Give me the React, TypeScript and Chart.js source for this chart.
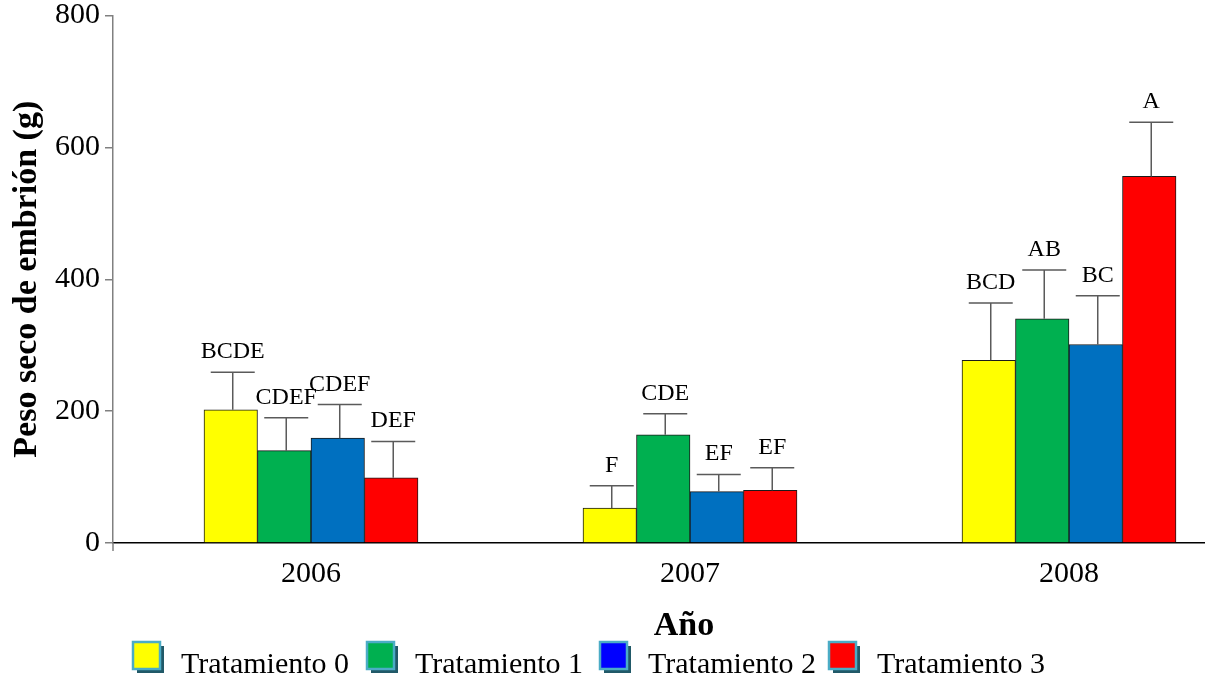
import React, { useEffect, useRef } from 'react';
import { Chart, registerables } from 'chart.js';

Chart.register(...registerables);

const FONT = '"Liberation Serif", "Times New Roman", serif';

const years = [2006, 2007, 2008];
const seriesNames = ['Tratamiento 0', 'Tratamiento 1', 'Tratamiento 2', 'Tratamiento 3'];
const t0 = [202, 53, 277];
const t1 = [140, 164, 340];
const t2 = [159, 78, 301];
const t3 = [99, 80, 556];
const err0 = [57, 34, 87];
const err1 = [50, 32, 74];
const err2 = [51, 26, 74];
const err3 = [55, 34, 82];
const let0 = ['BCDE', 'F', 'BCD'];
const let1 = ['CDEF', 'CDE', 'AB'];
const let2 = ['CDEF', 'EF', 'BC'];
const let3 = ['DEF', 'EF', 'A'];
const yTicks = [0, 200, 400, 600, 800];

const barColors = ['#ffff00', '#00b050', '#0070c0', '#ff0000'];
const legendColors = ['#ffff00', '#00b050', '#0000ff', '#ff0000'];
const legendBoxX = [133, 367, 600, 829];

const seriesValues = [t0, t1, t2, t3];
const seriesErrors = [err0, err1, err2, err3];
const seriesLetters = [let0, let1, let2, let3];

const extrasPlugin = {
  id: 'extras',
  afterDatasetsDraw(chart: any) {
    const ctx = chart.ctx;
    const y = chart.scales.y;
    ctx.save();
    chart.data.datasets.forEach((ds: any, di: number) => {
      const meta = chart.getDatasetMeta(di);
      meta.data.forEach((bar: any, i: number) => {
        const v = seriesValues[di][i];
        const e = seriesErrors[di][i];
        const cx = bar.x + 2;
        const yTop = y.getPixelForValue(v);
        const yErr = y.getPixelForValue(v + e);
        ctx.strokeStyle = '#5a5a5a';
        ctx.lineWidth = 1.5;
        ctx.beginPath();
        ctx.moveTo(cx, yTop);
        ctx.lineTo(cx, yErr);
        ctx.moveTo(cx - 22, yErr);
        ctx.lineTo(cx + 22, yErr);
        ctx.stroke();
        ctx.fillStyle = '#000';
        ctx.font = `24px ${FONT}`;
        ctx.textAlign = 'center';
        ctx.textBaseline = 'alphabetic';
        ctx.fillText(seriesLetters[di][i], cx, yErr - 14);
      });
    });
    ctx.restore();
  },
  afterDraw(chart: any) {
    const ctx = chart.ctx;
    const area = chart.chartArea;
    const xs = chart.scales.x;
    ctx.save();
    ctx.strokeStyle = '#808080';
    ctx.lineWidth = 1.5;
    ctx.beginPath();
    ctx.moveTo(area.left, area.bottom);
    ctx.lineTo(area.left, area.bottom + 8);
    ctx.stroke();
    ctx.fillStyle = '#000';
    ctx.font = `bold 34px ${FONT}`;
    ctx.textAlign = 'center';
    ctx.textBaseline = 'alphabetic';
    ctx.fillText('Año', xs.getPixelForValue(2007) - 6, 635);
    ctx.font = `30px ${FONT}`;
    ctx.textAlign = 'left';
    const by = 642;
    const bs = 27;
    seriesNames.forEach((name, i) => {
      const bx = legendBoxX[i];
      ctx.fillStyle = '#215968';
      ctx.fillRect(bx + 4, by + 4, bs, bs);
      ctx.fillStyle = legendColors[i];
      ctx.fillRect(bx, by, bs, bs);
      ctx.strokeStyle = '#4bacc6';
      ctx.lineWidth = 2.5;
      ctx.strokeRect(bx, by, bs, bs);
      ctx.fillStyle = '#000';
      ctx.fillText(name, bx + 48, 673);
    });
    ctx.restore();
  },
};

export default function App() {
  const ref = useRef<HTMLCanvasElement>(null);
  useEffect(() => {
    document.body.style.margin = '0';
    const canvas = ref.current;
    if (!canvas) return;
    const chart = new Chart(canvas, {
      type: 'bar',
      data: {
        datasets: seriesNames.map((name, di) => ({
          label: name,
          data: years.map((yr, i) => ({ x: yr, y: seriesValues[di][i] })),
          backgroundColor: barColors[di],
          borderColor: '#1a1a1a',
          borderWidth: 1,
          barThickness: 53.5,
        })),
      },
      options: {
        animation: false,
        responsive: true,
        maintainAspectRatio: false,
        layout: { padding: { top: 15.5, right: 2, bottom: 40, left: 0 } },
        plugins: {
          legend: { display: false },
          tooltip: { enabled: false },
        },
        scales: {
          x: {
            type: 'linear',
            offset: false,
            bounds: 'data',
            min: 2005.4776,
            max: 2008.3562,
            afterBuildTicks: (scale: any) => {
              scale.ticks = years.map((v) => ({ value: v }));
            },
            afterFit: (scale: any) => {
              scale.height = 95;
              scale.paddingLeft = 0;
              scale.paddingRight = 0;
            },
            ticks: {
              callback: (v: any) => String(v),
              font: { family: FONT, size: 30 },
              color: '#000',
              padding: 13,
              autoSkip: false,
              maxRotation: 0,
            },
            grid: { display: true, offset: false, drawOnChartArea: false, drawTicks: false },
            border: { display: true, color: '#000', width: 1.5 },
          },
          y: {
            min: 0,
            max: 800,
            afterBuildTicks: (scale: any) => {
              scale.ticks = yTicks.map((v) => ({ value: v }));
            },
            afterFit: (scale: any) => {
              scale.width = 113;
              scale.paddingTop = 0;
              scale.paddingBottom = 0;
            },
            ticks: {
              font: { family: FONT, size: 30 },
              color: '#000',
              padding: 5,
            },
            grid: { drawOnChartArea: false, drawTicks: true, tickLength: 8, color: '#808080', lineWidth: 1.5 },
            border: { display: true, color: '#808080', width: 1.5 },
            title: {
              display: true,
              text: 'Peso seco de embrión (g)',
              font: { family: FONT, size: 34, weight: 'bold' },
              color: '#000',
              padding: { top: 7, bottom: 0 },
            },
          },
        },
      },
      plugins: [extrasPlugin],
    } as any);
    return () => chart.destroy();
  }, []);
  return (
    <div style={{ position: 'relative', width: 1206, height: 678 }}>
      <canvas ref={ref} />
    </div>
  );
}
